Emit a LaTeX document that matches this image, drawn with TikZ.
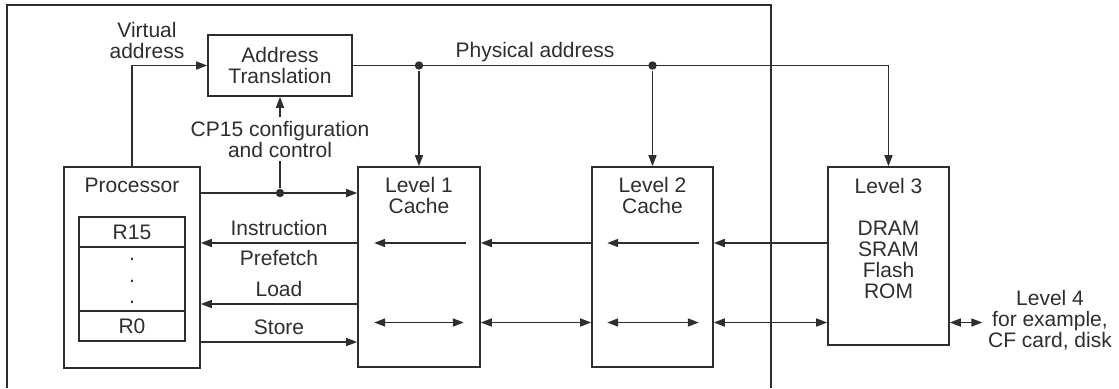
\documentclass[tikz,border=0pt]{standalone}
\usepackage{fontspec}
\setmainfont{Liberation Sans}
\usetikzlibrary{arrows.meta}
\tikzset{
  box/.style={draw, rectangle, inner sep=0pt},
  txt/.style={align=center, inner sep=0pt},
  tip/.style={-{Triangle[length=5.5pt,width=4pt]}},
  dtip/.style={{Triangle[length=5.5pt,width=4pt]}-{Triangle[length=5.5pt,width=4pt]}},
  junction/.style={circle, fill, inner sep=0pt, minimum size=4.2pt}
}
\begin{document}
\begin{tikzpicture}[x=0.5pt, y=-0.5pt, line width=0.8pt, color=black!82,
    font=\fontsize{10.5}{10.5}\selectfont]
      \useasboundingbox (0,0) rectangle (1119,388);
      % outer frame, open at the bottom
      \draw (7,388) -- (7,5) -- (771,5) -- (771,388);
      % rows of the connectors
      \coordinate (rC) at (0,193);
      \coordinate (rI) at (0,243);
      \coordinate (rL) at (0,304);
      \coordinate (rD) at (0,322.5);
      \coordinate (rS) at (0,342);
      % blocks
      \node[box, align=center, minimum width=72pt, minimum height=30.5pt] (at) at (280,65.5) {Address\\Translation};
      \node[box, minimum width=68pt, minimum height=100.5pt] (proc) at (132,267.5) {};
      \node[txt] (proct) at (132,185) {Processor};
      \node[box, minimum width=53pt, minimum height=15pt] (r15) at (132,232) {R15};
      \node[box, minimum width=53pt, minimum height=32pt] (rmid) at (132,279) {};
      \node[box, minimum width=53pt, minimum height=15pt] (r0) at (132,326) {R0};
      \foreach \y [count=\i] in {260,282,303}
        \node[anchor=base, inner sep=0pt] (d\i) at (132,\y) {.};
      \node[box, minimum width=61pt, minimum height=100pt] (l1) at (419,267) {};
      \node[txt] (l1t) at (419,195.5) {Level 1\\Cache};
      \node[box, minimum width=60.5pt, minimum height=100pt] (l2) at (652.5,267) {};
      \node[txt] (l2t) at (652.5,195.5) {Level 2\\Cache};
      \node[box, minimum width=60.5pt, minimum height=89pt] (l3) at (888.5,256) {};
      \node[txt] (l3t) at (888.5,238.5) {Level 3\\[10.5pt]DRAM\\SRAM\\Flash\\ROM};
      \node[txt, inner sep=2.5pt] (l4) at (1050,320) {Level 4\\for example,\\CF card, disk};
      % labels
      \node[txt] (va) at (147,40) {Virtual\\address};
      \node[txt, anchor=base] (pa) at (535,57) {Physical address};
      \node[txt, inner sep=1.5pt] (cp) at (280,139) {CP15 configuration\\and control};
      % address paths
      \draw[tip] (proc.north) |- (at.west);
      \draw[tip] (at.east) -| (l3.north);
      \node[junction] (j1) at (l1.north |- at.east) {};
      \node[junction] (j2) at (l2.north |- at.east) {};
      \draw[tip] (j1) -- (l1.north);
      \draw[tip] (j2) -- (l2.north);
      \draw[tip] (cp.north) -- (at.south);
      % processor to level 1
      \draw[tip] (proc.east |- rC) -- (l1.west |- rC);
      \node[junction] (j0) at (cp.south |- rC) {};
      \draw (j0) -- (cp.south);
      \draw[tip] (l1.west |- rI) -- node[above] (instr) {Instruction} node[below] (pref) {Prefetch} (proc.east |- rI);
      \draw[tip] (l1.west |- rL) -- node[above] (load) {Load} (proc.east |- rL);
      \draw[tip] (proc.east |- rS) -- node[above] (store) {Store} (l1.west |- rS);
      % fetch path
      \begin{scope}[tip]
        \draw ([xshift=-7.5pt]l1.east |- rI) -- ([xshift=8.5pt]l1.west |- rI);
        \draw (l2.west |- rI) -- (l1.east |- rI);
        \draw ([xshift=-7.5pt]l2.east |- rI) -- ([xshift=8pt]l2.west |- rI);
        \draw (l3.west |- rI) -- (l2.east |- rI);
      \end{scope}
      % data path
      \begin{scope}[dtip]
        \draw ([xshift=8.5pt]l1.west |- rD) -- ([xshift=-8.5pt]l1.east |- rD);
        \draw (l1.east |- rD) -- (l2.west |- rD);
        \draw ([xshift=8pt]l2.west |- rD) -- ([xshift=-7.5pt]l2.east |- rD);
        \draw (l2.east |- rD) -- (l3.west |- rD);
        \draw (l3.east |- rD) -- (l4.west |- rD);
      \end{scope}
    \end{tikzpicture}
\end{document}
